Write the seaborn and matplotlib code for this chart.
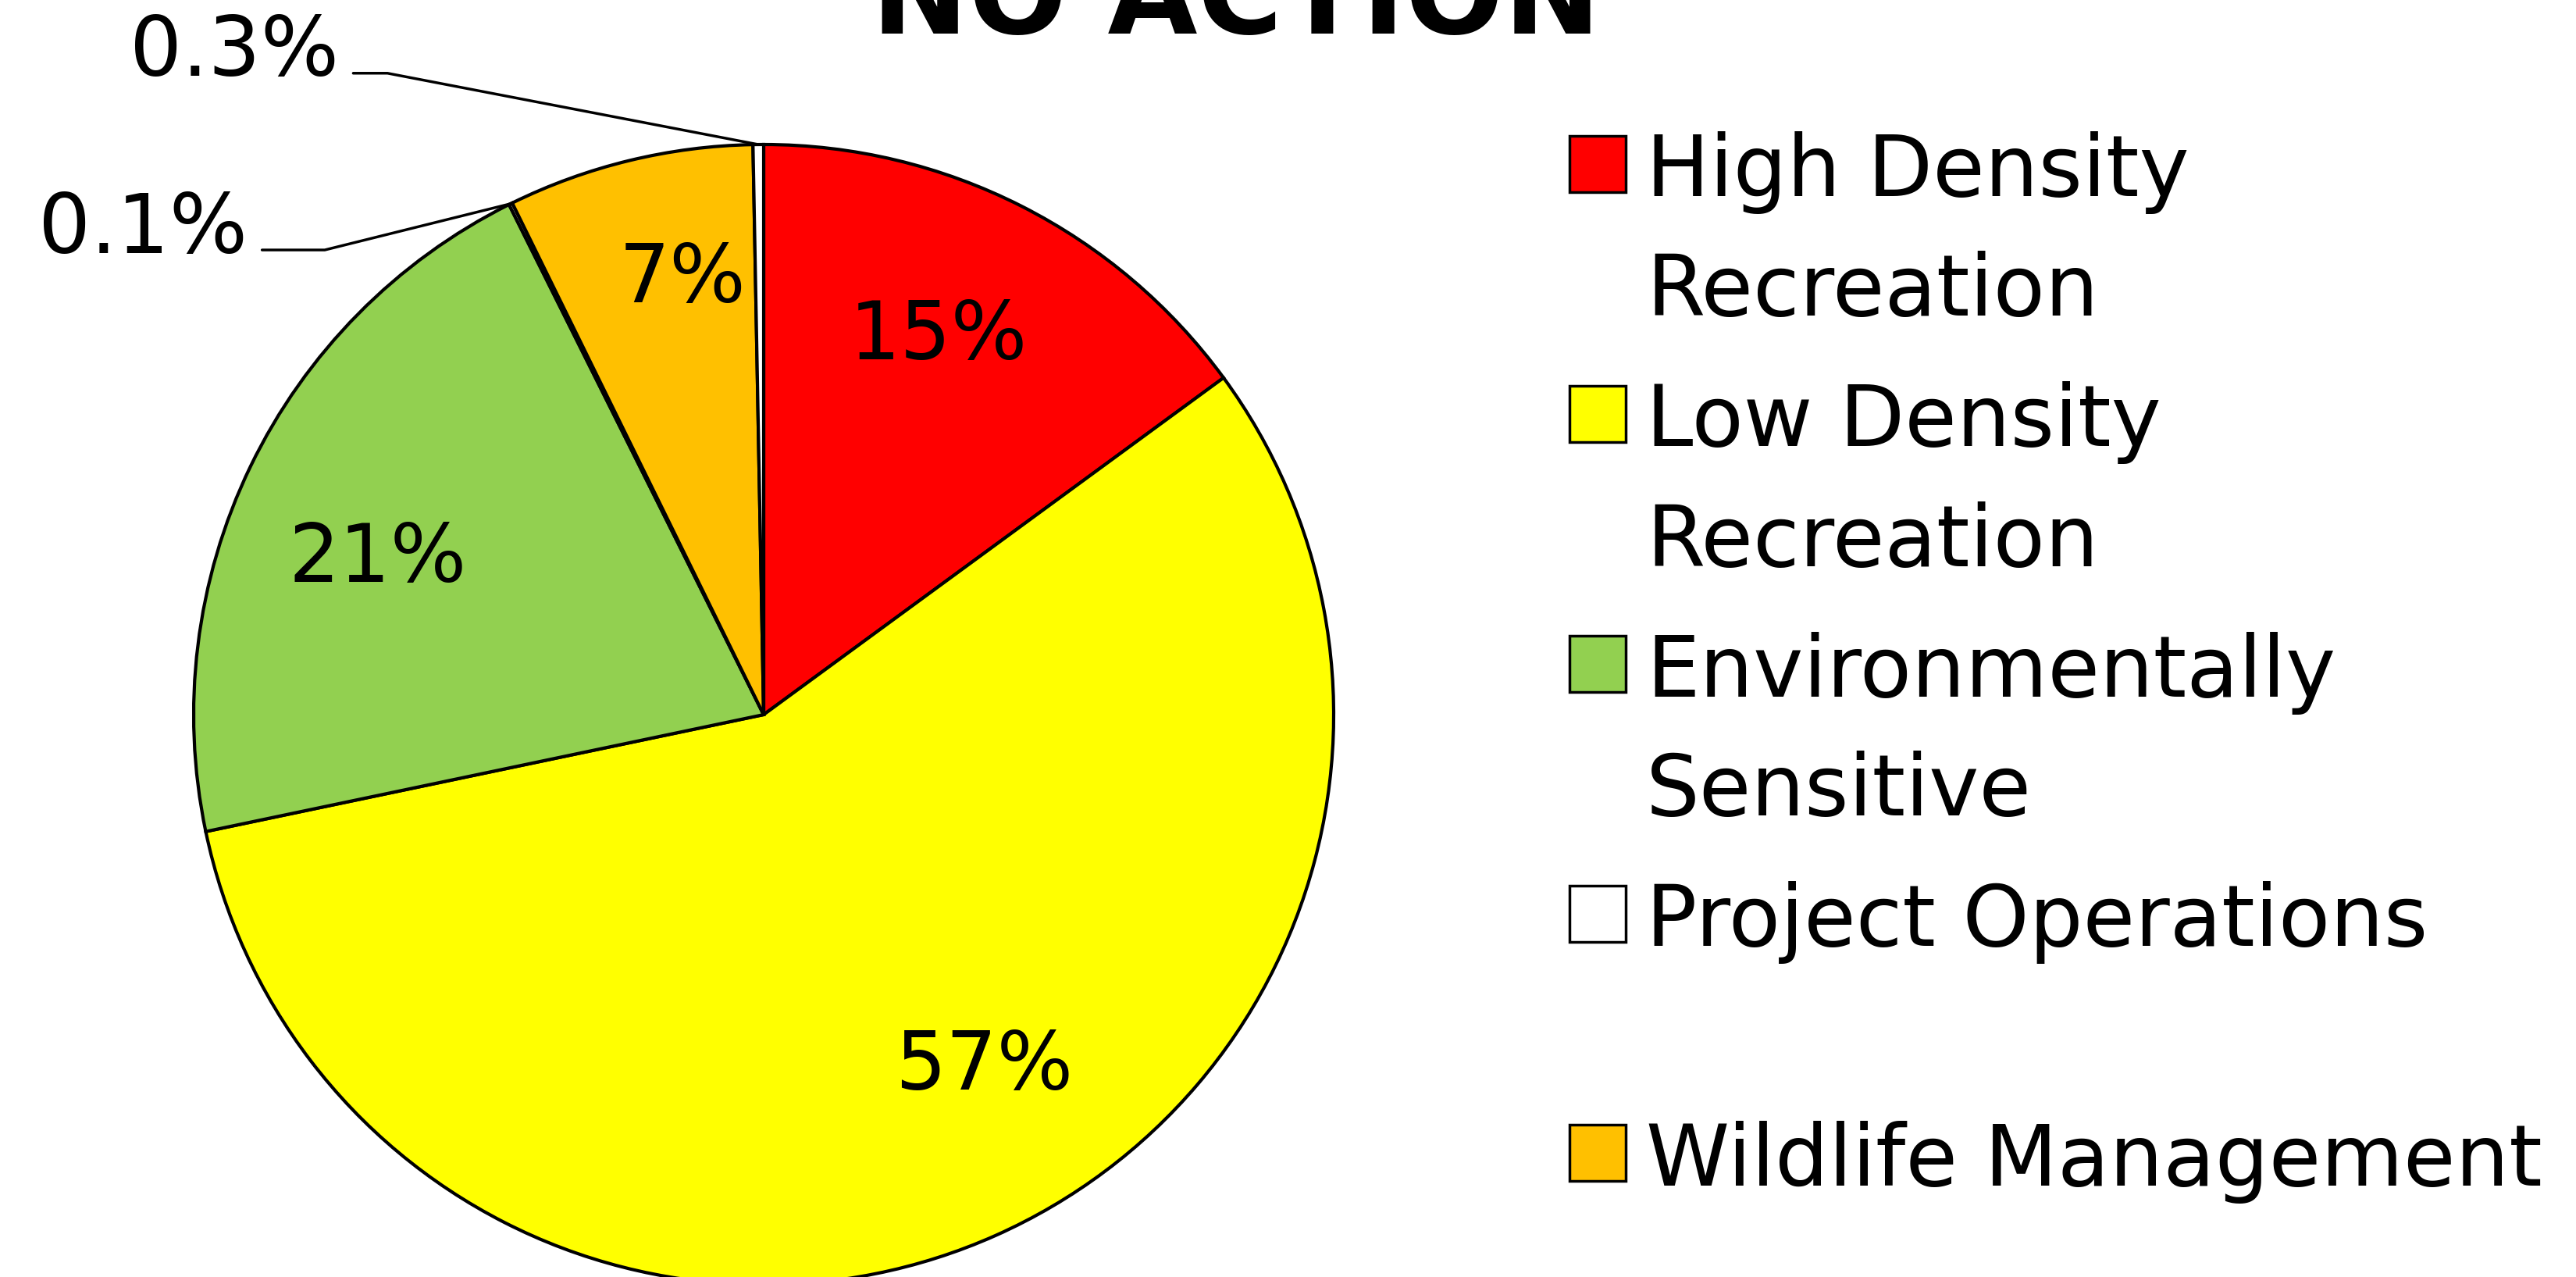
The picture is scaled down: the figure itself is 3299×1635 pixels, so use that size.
import numpy as np
import seaborn as sns
import matplotlib.pyplot as plt
from matplotlib.patches import Rectangle

# pie order, clockwise from 12 o'clock
categories = ["High Density Recreation", "Low Density Recreation", "Environmentally Sensitive",
              "Other", "Wildlife Management", "Project Operations"]
values = [15, 57, 21, 0.1, 7, 0.3]
colors = ["#FF0000", "#FFFF00", "#92D050", "#FFFFFF", "#FFC000", "#FFFFFF"]

legend_labels = ["High Density\nRecreation", "Low Density\nRecreation", "Environmentally\nSensitive",
                 "Project Operations", "", "Wildlife Management"]
legend_colors = ["#FF0000", "#FFFF00", "#92D050", "#FFFFFF", None, "#FFC000"]

sns.set_theme(style="white")
plt.rcParams['font.family'] = ['DejaVu Sans']

W, H = 3299, 1635
fig = plt.figure(figsize=(W / 100, H / 100), dpi=100)
fig.patch.set_facecolor('white')
FS = 74
FS_LEG = 78

# pie centre and radius in pixels
cx, cy, r = 978, 915, 730
ax = fig.add_axes([(cx - r) / W, (H - cy - r) / H, 2 * r / W, 2 * r / H])
ax.set_axis_off()

wedges, _ = ax.pie(values, colors=colors, startangle=90, counterclock=False,
                   wedgeprops=dict(edgecolor='black', linewidth=3, clip_on=False))
ax.set_xlim(-1, 1)
ax.set_ylim(-1, 1)
ax.set_aspect('equal')

# inside labels (Excel "best fit" nudges, degrees)
nudge = {0: 2, 1: 8, 2: 4, 4: -3}
for i, (w, v) in enumerate(zip(wedges, values)):
    if v < 1:
        continue
    mid = np.deg2rad((w.theta1 + w.theta2) / 2 + nudge.get(i, 0))
    d = 0.775 if v < 10 else 0.73
    ax.text(d * np.cos(mid), d * np.sin(mid), f"{v:g}%", ha='center', va='center',
            fontsize=FS, color='black')

# outside labels with leader lines (text end, elbow)
small = {3: ((-0.88, 0.815), (-0.77, 0.815)), 5: ((-0.72, 1.125), (-0.66, 1.125))}
for i, (start, elbow) in small.items():
    w = wedges[i]
    mid = np.deg2rad((w.theta1 + w.theta2) / 2)
    rim = (np.cos(mid), np.sin(mid))
    ax.plot([start[0], elbow[0], rim[0]], [start[1], elbow[1], rim[1]], color='black',
            lw=2.5, clip_on=False)
    ax.text(start[0] - 0.025, start[1] - 0.035, f"{values[i]:g}%", ha='right', va='bottom',
            fontsize=FS + 2, color='black')

fig.text(0.48, 1 - 43 / H, "NO ACTION", ha='center', va='baseline', fontsize=107,
         fontweight='bold', color='black')

# legend drawn by hand: square aligned with first text line
line_h, gap = 153, 14
y = 210
box = 72
for lab, col in zip(legend_labels, legend_colors):
    n = max(1, lab.count('\n') + 1)
    if col is not None:
        fig.add_artist(Rectangle(((2046 - box / 2) / W, (H - y - box / 2) / H), box / W, box / H,
                                 transform=fig.transFigure, facecolor=col, edgecolor='black',
                                 linewidth=2.5))
    for k, part in enumerate(lab.split('\n')):
        fig.text(2108 / W, (H - y - k * line_h) / H, part, ha='left', va='center_baseline',
                 fontsize=FS_LEG, color='black')
    y += n * line_h + (gap if n > 1 else 0)

fig.savefig("out.png", dpi=100, facecolor='white')
